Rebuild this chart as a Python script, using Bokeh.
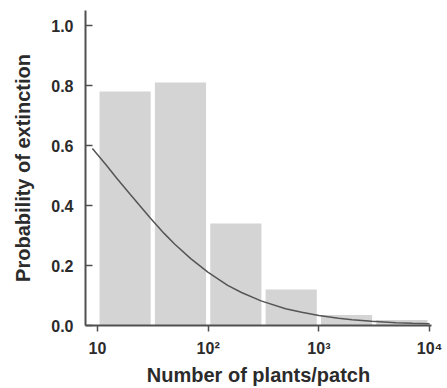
from bokeh.plotting import figure
from bokeh.models import Range1d, FixedTicker
from bokeh.embed import file_html
from bokeh.resources import INLINE

# Histogram bins (plants per patch, half-decade bins) and observed extinction probability
bin_lo = [10, 31.6, 100, 316, 1000, 3162]
bin_hi = [31.6, 100, 316, 1000, 3162, 10000]
bar_p = [0.78, 0.81, 0.34, 0.12, 0.035, 0.018]

# Fitted curve
curve_n = [9, 12, 15, 20, 30, 40, 50, 70, 100, 150, 200, 300, 500, 700,
           1000, 1500, 2000, 3000, 5000, 7000, 10000]
curve_p = [0.59, 0.535, 0.49, 0.435, 0.358, 0.307, 0.271, 0.222, 0.177, 0.134,
           0.11, 0.082, 0.056, 0.044, 0.033, 0.024, 0.019, 0.014, 0.0095, 0.0073,
           0.0055]

x_ticks = [10, 100, 1000, 10000]
x_tick_labels = ["10", "10\u00b2", "10\u00b3", "10\u2074"]
y_ticks = [0.0, 0.2, 0.4, 0.6, 0.8, 1.0]
y_tick_labels = ["0.0", "0.2", "0.4", "0.6", "0.8", "1.0"]

p = figure(width=447, height=388, x_axis_type="log",
           x_range=Range1d(7.8, 10400), y_range=Range1d(0, 1.05),
           output_backend="svg", toolbar_location=None,
           min_border_left=85, min_border_right=16, min_border_top=10,
           min_border_bottom=61)
p.outline_line_color = None
p.xgrid.visible = False
p.ygrid.visible = False
p.background_fill_color = "white"
p.border_fill_color = "white"

gap = 10 ** 0.019
p.quad(left=[v * gap for v in bin_lo], right=[v / gap for v in bin_hi],
       bottom=0, top=bar_p, fill_color="#d4d4d4", line_color=None)
p.line(curve_n, curve_p, line_color="#555555", line_width=1.5)

axis_color = "#505050"
text_color = "#2b2b2b"
font = "Liberation Sans"

xa = p.xaxis[0]
xa.ticker = FixedTicker(ticks=x_ticks, minor_ticks=[])
xa.major_label_overrides = {t: l for t, l in zip(x_ticks, x_tick_labels)}
xa.axis_label = "Number of plants/patch"
xa.major_tick_in = 0
xa.major_tick_out = 6
xa.minor_tick_in = 0
xa.minor_tick_out = 0
xa.major_label_standoff = 8
xa.axis_label_standoff = 4

ya = p.yaxis[0]
ya.ticker = FixedTicker(ticks=y_ticks, minor_ticks=[])
ya.major_label_overrides = {t: l for t, l in zip(y_ticks, y_tick_labels)}
ya.axis_label = "Probability of extinction"
ya.major_tick_in = 7
ya.major_tick_out = 0
ya.minor_tick_in = 0
ya.minor_tick_out = 0
ya.major_label_standoff = 12
ya.axis_label_standoff = 14

for ax in (xa, ya):
    ax.axis_line_color = axis_color
    ax.axis_line_width = 2
    ax.major_tick_line_color = axis_color
    ax.major_tick_line_width = 1.5
    ax.major_label_text_font = font
    ax.major_label_text_font_style = "bold"
    ax.major_label_text_font_size = "16px"
    ax.major_label_text_color = text_color
    ax.axis_label_text_font = font
    ax.axis_label_text_font_style = "bold"
    ax.axis_label_text_font_size = "20px"
    ax.axis_label_text_color = text_color

open("out.html", "w").write(file_html(p, INLINE))
